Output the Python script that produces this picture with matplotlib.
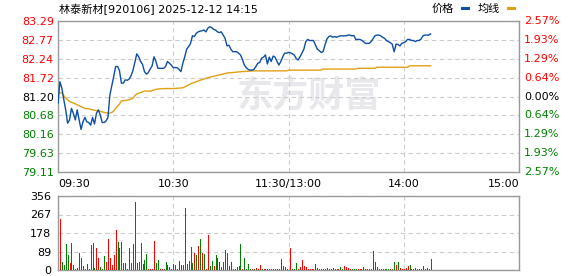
import matplotlib
matplotlib.use("Agg")
import matplotlib.pyplot as plt
from matplotlib.lines import Line2D

plt.rcParams['font.family'] = ['DejaVu Sans', 'Noto Sans CJK SC']

title = "林泰新材[920106] 2025-12-12 14:15"

# price per minute (minute index 0 = 09:30, 120 = 11:30/13:00, 240 = 15:00)
price = [
    81.01, 81.61, 81.43, 81.12, 80.83, 80.46, 80.55, 80.87, 80.73, 80.55,
    80.83, 80.55, 80.29, 80.50, 80.62, 80.50, 80.48, 80.41, 80.62, 80.44,
    80.73, 80.83, 80.69, 80.48, 80.48, 80.52, 80.62, 81.24, 81.49, 81.75,
    82.03, 82.03, 81.92, 81.57, 81.57, 81.66, 81.65, 81.68, 81.77, 81.92,
    82.14, 82.38, 82.30, 82.17, 82.09, 81.89, 81.82, 81.86, 81.96, 82.05,
    82.30, 82.17, 81.98, 81.98, 81.98, 81.98, 82.03, 82.17, 82.12, 82.07,
    82.00, 82.00, 82.00, 81.95, 81.89, 82.12, 82.30, 82.51, 82.58, 82.67,
    82.88, 82.86, 82.95, 82.99, 83.01, 83.02, 83.04, 82.99, 83.09, 83.13,
    83.11, 83.06, 83.04, 82.99, 82.97, 82.99, 82.90, 82.81, 82.60, 82.62,
    82.51, 82.44, 82.44, 82.44, 82.40, 82.35, 82.23, 82.07, 82.00, 81.95,
    81.93, 81.93, 81.95, 82.03, 82.12, 82.14, 82.26, 82.29, 82.35, 82.10,
    82.29, 82.17, 82.32, 82.29, 82.17, 82.07, 82.17, 82.30, 82.40, 82.40,
    82.42, 82.41, 82.38, 82.35, 82.25, 82.21, 82.30, 82.40, 82.51, 82.72,
    82.78, 82.75, 82.75, 82.75, 82.63, 82.51, 82.47, 82.42, 82.44, 82.63,
    82.79, 82.86, 82.88, 82.84, 82.86, 82.84, 82.86, 82.88, 82.88, 82.88,
    82.88, 82.90, 82.90, 82.88, 82.89, 82.78, 82.78, 82.78, 82.76, 82.72,
    82.67, 82.67, 82.67, 82.72, 82.80, 82.88, 82.90, 82.90, 82.88, 82.84,
    82.81, 82.75, 82.72, 82.69, 82.65, 82.44, 82.65, 82.64, 82.60, 82.67,
    82.69, 82.72, 82.78, 82.78, 82.75, 82.75, 82.72, 82.75, 82.75, 82.79,
    82.88, 82.90, 82.90, 82.90, 82.93,
]

avg_t = [0, 2, 4, 6, 8, 10, 12, 14, 16, 18, 20, 22, 24, 26, 27, 28, 29, 30, 31,
         32, 33, 35, 37, 39, 40, 41, 43, 45, 48, 50, 51, 55, 60, 65, 67, 69, 71,
         74, 78, 81, 85, 88, 92, 96, 102, 119, 120, 137, 138, 155, 156, 165, 166,
         182, 183, 194]
avg_v = [81.30, 81.30, 81.15, 81.06, 81.02, 80.97, 80.92, 80.87, 80.86, 80.83,
         80.81, 80.79, 80.76, 80.74, 80.74, 80.76, 80.80, 80.87, 80.93, 80.99,
         81.08, 81.09, 81.11, 81.15, 81.22, 81.27, 81.31, 81.35, 81.35, 81.38,
         81.40, 81.42, 81.42, 81.44, 81.49, 81.55, 81.59, 81.65, 81.72, 81.76,
         81.81, 81.85, 81.87, 81.89, 81.91, 81.91, 81.93, 81.93, 81.96, 81.96,
         81.98, 81.98, 82.01, 82.01, 82.05, 82.05]

# volume per minute, starting at minute 1
volume = [
    244, 40, 24, 125, 72, 35, 131, 24, 3, 8,
    83, 59, 19, 3, 29, 6, 120, 131, 8, 107,
    58, 13, 3, 67, 40, 149, 58, 24, 72, 192,
    136, 106, 136, 35, 35, 3, 104, 35, 125, 329,
    32, 38, 131, 29, 48, 77, 5, 5, 5, 140,
    35, 48, 5, 5, 3, 38, 24, 16, 6, 29,
    22, 3, 45, 24, 24, 298, 29, 43, 111, 35,
    80, 72, 117, 149, 83, 77, 6, 170, 19, 45,
    19, 72, 59, 40, 16, 40, 96, 83, 19, 40,
    6, 5, 16, 19, 125, 5, 59, 6, 29, 3,
    3, 5, 10, 5, 24, 3, 3, 3, 5, 5,
    5, 5, 5, 5, 5, 53, 19, 13, 5, 0,
    104, 3, 5, 32, 3, 13, 48, 19, 13, 3,
    3, 3, 5, 29, 10, 5, 3, 3, 3, 10,
    5, 3, 10, 5, 3, 3, 14, 5, 19, 13,
    10, 5, 3, 3, 3, 3, 3, 5, 13, 3,
    5, 3, 3, 93, 38, 13, 3, 3, 3, 3,
    3, 3, 3, 3, 38, 24, 38, 10, 5, 3,
    10, 19, 22, 5, 5, 10, 5, 3, 3, 19,
    3, 10, 3, 53,
]
vol_dir = [
    "r", "g", "g", "g", "g", "r", "r", "g", "r", "g",
    "g", "g", "r", "r", "g", "g", "g", "r", "g", "r",
    "r", "g", "g", "g", "r", "r", "r", "r", "r", "r",
    "g", "g", "g", "g", "g", "r", "g", "r", "r", "r",
    "r", "g", "g", "r", "g", "g", "r", "r", "r", "r",
    "g", "g", "r", "r", "g", "g", "g", "g", "r", "g",
    "r", "r", "g", "g", "r", "r", "g", "r", "r", "g",
    "r", "g", "r", "g", "r", "g", "r", "r", "g", "g",
    "r", "g", "g", "g", "r", "g", "g", "g", "r", "g",
    "r", "g", "g", "g", "g", "r", "g", "g", "g", "g",
    "r", "g", "r", "r", "r", "g", "r", "r", "r", "g",
    "g", "r", "g", "g", "g", "r", "r", "r", "r", "r",
    "r", "g", "g", "g", "r", "r", "r", "r", "r", "r",
    "r", "r", "r", "g", "g", "g", "r", "r", "r", "r",
    "r", "g", "g", "r", "g", "r", "g", "g", "r", "r",
    "r", "r", "g", "g", "g", "r", "r", "g", "g", "r",
    "g", "r", "r", "r", "r", "r", "g", "g", "g", "g",
    "g", "g", "r", "g", "g", "r", "g", "r", "r", "r",
    "r", "r", "g", "r", "g", "g", "r", "r", "r", "r",
    "g", "r", "g", "r",
]

price_ticks = [79.11, 79.63, 80.16, 80.68, 81.20, 81.72, 82.24, 82.77, 83.29]
pct_labels = ["2.57%", "1.93%", "1.29%", "0.64%", "0.00%",
              "0.64%", "1.29%", "1.93%", "2.57%"]
vol_ticks = [0, 89, 178, 267, 356]
time_ticks = [0, 60, 120, 180, 240]
time_labels = ["09:30", "10:30", "11:30/13:00", "14:00", "15:00"]

RED = "#ff0000"
GREEN = "#008000"
BLUE = "#0d4fa3"
GOLD = "#e0a015"
SPINE = "#999999"
GRID = "#cccccc"

W, H = 578, 276
fig = plt.figure(figsize=(W / 100, H / 100), dpi=100)
L, R = 58, 519
ax = fig.add_axes([L / W, 1 - 172 / H, (R - L) / W, (172 - 21) / H])
axv = fig.add_axes([L / W, 1 - 270 / H, (R - L) / W, (270 - 196) / H])

for a in (ax, axv):
    for s in a.spines.values():
        s.set_color(SPINE)
        s.set_linewidth(1.0)
    a.set_xlim(0, 240)
    a.set_xticks(time_ticks)
    a.tick_params(length=0, labelsize=8)
    a.grid(True, color=GRID, linestyle=(0, (4, 3)), linewidth=0.8)
    a.set_axisbelow(True)

# watermark
ax.text(0.545, 0.50, "东方财富", transform=ax.transAxes, fontsize=26,
        fontweight="bold", color="#e8e8ec", ha="center", va="center",
        family=["Noto Sans CJK SC"], zorder=0)

mins = list(range(len(price)))
ax.plot(avg_t, avg_v, color=GOLD, lw=1.0, zorder=3)
ax.plot(mins, price, color=BLUE, lw=1.0, zorder=4)
ax.set_ylim(price_ticks[0], price_ticks[-1])
ax.set_yticks(price_ticks)
ax.set_yticklabels([f"{v:.2f}" for v in price_ticks])
tick_cols = [GREEN] * 4 + ["black"] + [RED] * 4
for lbl, c in zip(ax.get_yticklabels(), tick_cols):
    lbl.set_color(c)
ax.tick_params(axis="y", pad=3)
ax.set_xticklabels(time_labels)
ax.tick_params(axis="x", pad=5)
xl = ax.get_xticklabels()
xl[0].set_ha("left")
xl[-1].set_ha("right")

for v, lab, c in zip(price_ticks, pct_labels, tick_cols):
    ax.text(1.0 + 5 / (R - L), v, lab, transform=ax.get_yaxis_transform(),
            color=c, fontsize=8, ha="left", va="center")

vcols = [RED if d == "r" else GREEN for d in vol_dir]
vx = list(range(1, len(volume) + 1))
axv.vlines(vx, 0, volume, colors=vcols, linewidth=0.72, antialiased=False,
           zorder=3)
axv.set_ylim(0, 356)
axv.set_yticks(vol_ticks)
axv.set_yticklabels([str(v) for v in vol_ticks])
axv.tick_params(axis="y", pad=5)
axv.set_xticklabels([])

fig.text(59 / W, 1 - 9 / H, title, fontsize=8, ha="left", va="center",
         family=["DejaVu Sans", "Noto Sans CJK SC"])
fig.text(432 / W, 1 - 9 / H, "价格", fontsize=8, ha="left", va="center",
         family=["Noto Sans CJK SC"])
fig.text(478 / W, 1 - 9 / H, "均线", fontsize=8, ha="left", va="center",
         family=["Noto Sans CJK SC"])
fig.add_artist(Line2D([462 / W, 468 / W], [1 - 8 / H] * 2, color=BLUE, lw=2.2))
fig.add_artist(Line2D([508 / W, 514 / W], [1 - 8 / H] * 2, color=GOLD, lw=2.2))

fig.savefig("out.png", dpi=100)
